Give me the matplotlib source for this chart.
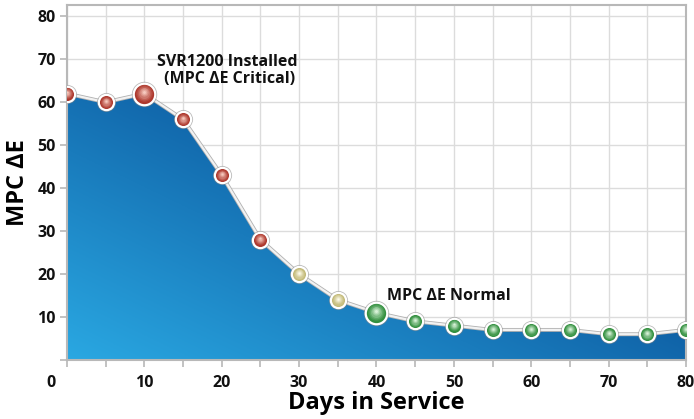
import numpy as np
import matplotlib.pyplot as plt
import matplotlib.patheffects as pe
from matplotlib.transforms import ScaledTranslation

plt.rcParams['font.family'] = ['Open Sans', 'DejaVu Sans']

days = [0, 5, 10, 15, 20, 25, 30, 35, 40, 45, 50, 55, 60, 65, 70, 75, 80]
mpc_de = [62, 60, 62, 56, 43, 28, 20, 14, 11, 9, 8, 7, 7, 7, 6, 6, 7]
status = ['r', 'r', 'r', 'r', 'r', 'r', 'y', 'y', 'g', 'g', 'g', 'g', 'g', 'g', 'g', 'g', 'g']
big = [10, 40]
x_ticks = [0, 10, 20, 30, 40, 50, 60, 70, 80]
y_ticks = [10, 20, 30, 40, 50, 60, 70, 80]

colors = {'r': ('#ad382d', '#f6cabf'), 'y': ('#c2b977', '#fcfae8'), 'g': ('#33903f', '#d8f2d8')}

fig = plt.figure(figsize=[6.94, 4.19], dpi=100)
ax = fig.add_axes([0.0965, 0.1408, 0.892, 0.847])
ax.set_xlim(0, 80)
ax.set_ylim(0, 82.6)

ax.grid(True, color='#dcdcdc', linewidth=1, zorder=0)
ax.set_axisbelow(True)

# gradient area
poly = ax.fill_between(days, mpc_de, 0, color='none', zorder=2)
nx, ny = 200, 200
gx, gy = np.meshgrid(np.linspace(0, 1, nx), np.linspace(0, 1, ny))
t = np.clip((gx * 0.75 + gy * 0.7) / 1.05, 0, 1)
c0 = np.array([0x2a, 0xa8, 0xe2]) / 255
c1 = np.array([0x08, 0x4e, 0x96]) / 255
img = c0[None, None, :] * (1 - t[..., None]) + c1[None, None, :] * t[..., None]
im = ax.imshow(img, extent=[0, 80, 0, 65], origin='lower', aspect='auto', zorder=2)
im.set_clip_path(poly.get_paths()[0], transform=ax.transData)

# line
ax.plot(days, mpc_de, color='#f2f2f2', linewidth=1.6, zorder=3,
        path_effects=[pe.Stroke(linewidth=2.8, foreground='#b0b0b0'), pe.Normal()])

# markers with a glossy look
def blend(a, b, f):
    a = np.array(plt.matplotlib.colors.to_rgb(a))
    b = np.array(plt.matplotlib.colors.to_rgb(b))
    return a * (1 - f) + b * f

for x, y, s in zip(days, mpc_de, status):
    base, hi = colors[s]
    size = 15.5 if x in big else 11
    ax.plot(x, y, 'o', ms=size + 1.8, color='#888888', zorder=4, alpha=0.5)
    ax.plot(x, y, 'o', ms=size, color=base, mec='white', mew=1.6, zorder=5)
    n = 6
    for i in range(1, n + 1):
        f = i / n
        ms = (size - 1.6) * (1 - 0.85 * f)
        dy = 0.28 * size / 10 * f
        ax.plot(x, y + dy, 'o', ms=ms, color=blend(base, hi, f ** 1.2), mew=0, zorder=5 + f)

# axes styling
for side in ['top', 'right', 'left', 'bottom']:
    ax.spines[side].set_color('#b8b8b8')
    ax.spines[side].set_linewidth(1.5)

ax.set_xticks(np.arange(0, 81, 5))
ax.set_xticklabels([str(v) if v in x_ticks else '' for v in np.arange(0, 81, 5)],
                   fontsize=11.5, fontweight='bold')
ax.set_yticks(np.arange(0, 81, 10))
ax.set_yticklabels([''] + [str(v) for v in y_ticks], fontsize=11.5, fontweight='bold')
ax.tick_params(axis='x', length=5, color='#b8b8b8', width=1.2, pad=6)
ax.tick_params(axis='y', length=5, color='#b8b8b8', width=1.2, pad=3)
ax.tick_params(axis='both', labelcolor='#111111')

lbl0 = ax.get_xticklabels()[0]
lbl0.set_transform(lbl0.get_transform() + ScaledTranslation(-0.16, 0, fig.dpi_scale_trans))

ax.set_xlabel('Days in Service', fontsize=17, fontweight='bold', labelpad=0)
ax.set_ylabel('MPC ΔE', fontsize=17, fontweight='bold', labelpad=5)

ax.text(20.7, 67.3, 'SVR1200 Installed\n (MPC ΔE Critical)', ha='center', va='center',
        fontsize=11.5, fontweight='bold', color='#111111', linespacing=1.1, zorder=7)
ax.text(49.4, 14.9, 'MPC ΔE Normal', ha='center', va='center',
        fontsize=11.5, fontweight='bold', color='#111111', zorder=7)

fig.savefig('out.png', dpi=100)
